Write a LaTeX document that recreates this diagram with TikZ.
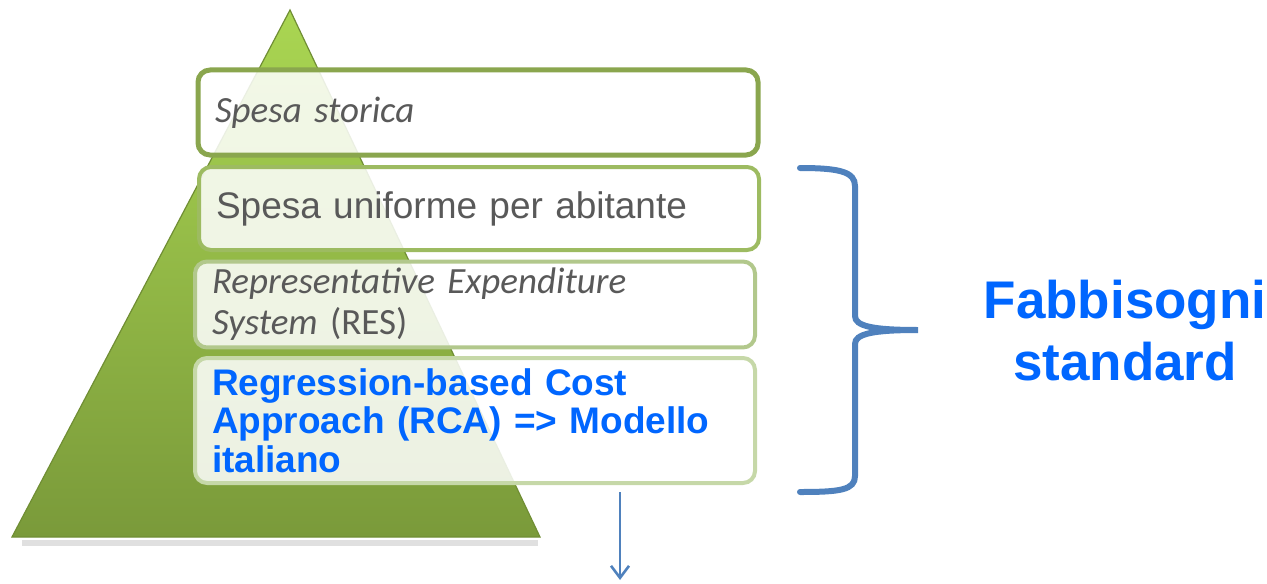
\documentclass[tikz,border=0pt]{standalone}
\usepackage{fontspec}
\setmainfont{Liberation Sans}
\newfontfamily\calibri{Carlito}
\usetikzlibrary{arrows.meta, positioning}
\definecolor{pyrtop}{RGB}{170,214,82}
\definecolor{pyrbot}{RGB}{122,154,58}
\definecolor{pyredge}{RGB}{112,142,52}
\definecolor{boxa}{RGB}{138,166,78}
\definecolor{boxb}{RGB}{157,187,97}
\definecolor{boxc}{RGB}{178,200,140}
\definecolor{boxd}{RGB}{198,216,168}
\definecolor{txtgray}{RGB}{89,89,89}
\definecolor{fsblue}{RGB}{0,102,255}
\definecolor{bracebl}{RGB}{79,129,189}

\begin{document}
\begin{tikzpicture}[x=0.5pt, y=-0.5pt,
  level/.style={draw, rounded corners=6pt, fill=white, fill opacity=0.86,
    text opacity=1, minimum width=280pt, inner xsep=8.5pt, text width=263pt,
    align=left, text=txtgray, font=\fontsize{18.5}{20.5}\selectfont},
  bigtext/.style={font=\fontsize{26.5}{31}\selectfont\bfseries, text=fsblue, align=center}]
  \useasboundingbox (0,0) rectangle (1267,583);

  % Pyramid
  \draw[black!12, line width=3pt] (22,543) -- (538,543);
  \shade[top color=pyrtop, bottom color=pyrbot, draw=pyredge, line width=0.6pt]
    (290,10) -- (540,537) -- (12,537) -- cycle;

  % Levels
  \node[level, draw=boxa, line width=2.5pt, minimum height=42.5pt, font=\fontsize{18.5}{20.5}\selectfont\calibri\itshape]
    (storica) at (478,112.5) {Spesa storica};
  \node[level, draw=boxb, line width=2pt, minimum height=41.5pt]
    (uniforme) at (479,208.5) {Spesa uniforme per abitante};
  \node[level, draw=boxc, line width=2pt, minimum height=42.5pt, font=\fontsize{18.5}{20.5}\selectfont\calibri]
    (res) at (475,304.5) {\textit{Representative Expenditure}\\\textit{System} (RES)};
  \node[level, draw=boxd, line width=2pt, minimum height=62.5pt, text=fsblue, font=\fontsize{18.5}{19.3}\selectfont\bfseries]
    (rca) at (475,420.5) {Regression-based Cost\\Approach (RCA) => Modello\\italiano};

  % Brace
  \draw[bracebl, line width=3pt, line cap=round]
    (800,168) .. controls (840,168) and (855,172) .. (855,186) -- (855,316)
    .. controls (855,326) and (872,330) .. (918,330)
    .. controls (872,330) and (855,334) .. (855,344) -- (855,476)
    .. controls (855,490) and (840,492) .. (800,492);
  \node[bigtext] (fabb) at (1125,331) {Fabbisogni\\standard};

  % Arrow
  \coordinate (arrtop) at (620,492);
  \coordinate (arrend) at (620,580);
  \draw[bracebl, line width=1.3pt, -{Straight Barb[length=6pt, width=9pt]}] (arrtop) -- (arrend);
\end{tikzpicture}
\end{document}
